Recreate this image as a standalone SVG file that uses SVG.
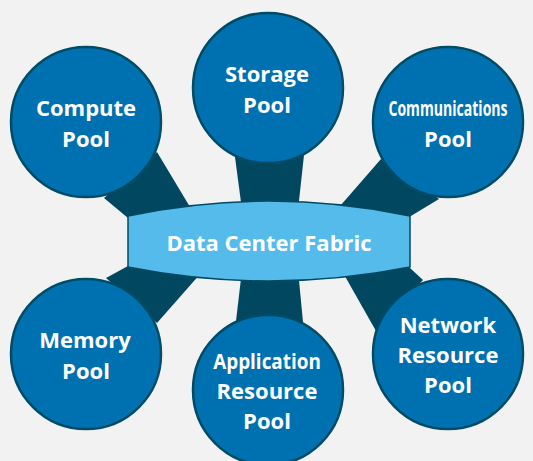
<svg xmlns="http://www.w3.org/2000/svg" width="533" height="461" viewBox="0 0 533 461">
  <style>
    .pool { fill: #0071b0; stroke: #004c66; stroke-width: 2.5; }
    .link { fill: #00475f; }
    .fabric { fill: #55bbea; stroke: #004a63; stroke-width: 1.5; }
    .label { fill: #ffffff; font-family: "Open Sans", "Noto Sans", sans-serif; font-weight: 700; font-size: 22px; text-anchor: middle; }
  </style>
  <rect width="533" height="461" fill="#f2f2f2"/>

  <!-- connectors between the pools and the fabric -->
  <g id="connectors">
    <polygon class="link" points="104,198 157,152 196,217 140,228"/>
    <polygon class="link" points="235,157 304,155 298,210 242,210"/>
    <polygon class="link" points="381,159 439,199 401,222 334,213"/>
    <polygon class="link" points="106,278 157,323 201,273 139,260"/>
    <polygon class="link" points="236,321 303,322 298,270 242,270"/>
    <polygon class="link" points="376,331 423,280 397,256 342,271"/>
  </g>

  <g id="compute-pool">
    <circle class="pool" cx="86" cy="122" r="75"/>
    <text class="label" x="86" y="116">Compute</text>
    <text class="label" x="86" y="147">Pool</text>
  </g>

  <g id="storage-pool">
    <circle class="pool" cx="268" cy="88" r="75"/>
    <text class="label" x="267" y="82">Storage</text>
    <text class="label" x="267" y="113">Pool</text>
  </g>

  <g id="communications-pool">
    <circle class="pool" cx="448" cy="122" r="75"/>
    <!-- narrow label: squeezed horizontally to fit the circle -->
    <text class="label" transform="translate(448,116) scale(0.64,1)">Communications</text>
    <text class="label" x="448" y="147">Pool</text>
  </g>

  <g id="memory-pool">
    <circle class="pool" cx="86" cy="354" r="75"/>
    <text class="label" x="85" y="348">Memory</text>
    <text class="label" x="86" y="379">Pool</text>
  </g>

  <g id="application-pool">
    <circle class="pool" cx="268" cy="390" r="75"/>
    <text class="label" transform="translate(267,369) scale(0.86,1)">Application</text>
    <text class="label" x="267" y="399">Resource</text>
    <text class="label" x="267" y="429">Pool</text>
  </g>

  <g id="network-pool">
    <circle class="pool" cx="448" cy="354" r="75"/>
    <text class="label" x="448" y="333">Network</text>
    <text class="label" x="448" y="363">Resource</text>
    <text class="label" x="448" y="393">Pool</text>
  </g>

  <g id="fabric">
    <path class="fabric" d="M128,216 Q269,186 410,216 L410,267 Q269,295 128,267 Z"/>
    <text class="label" x="269" y="251">Data Center Fabric</text>
  </g>
</svg>
